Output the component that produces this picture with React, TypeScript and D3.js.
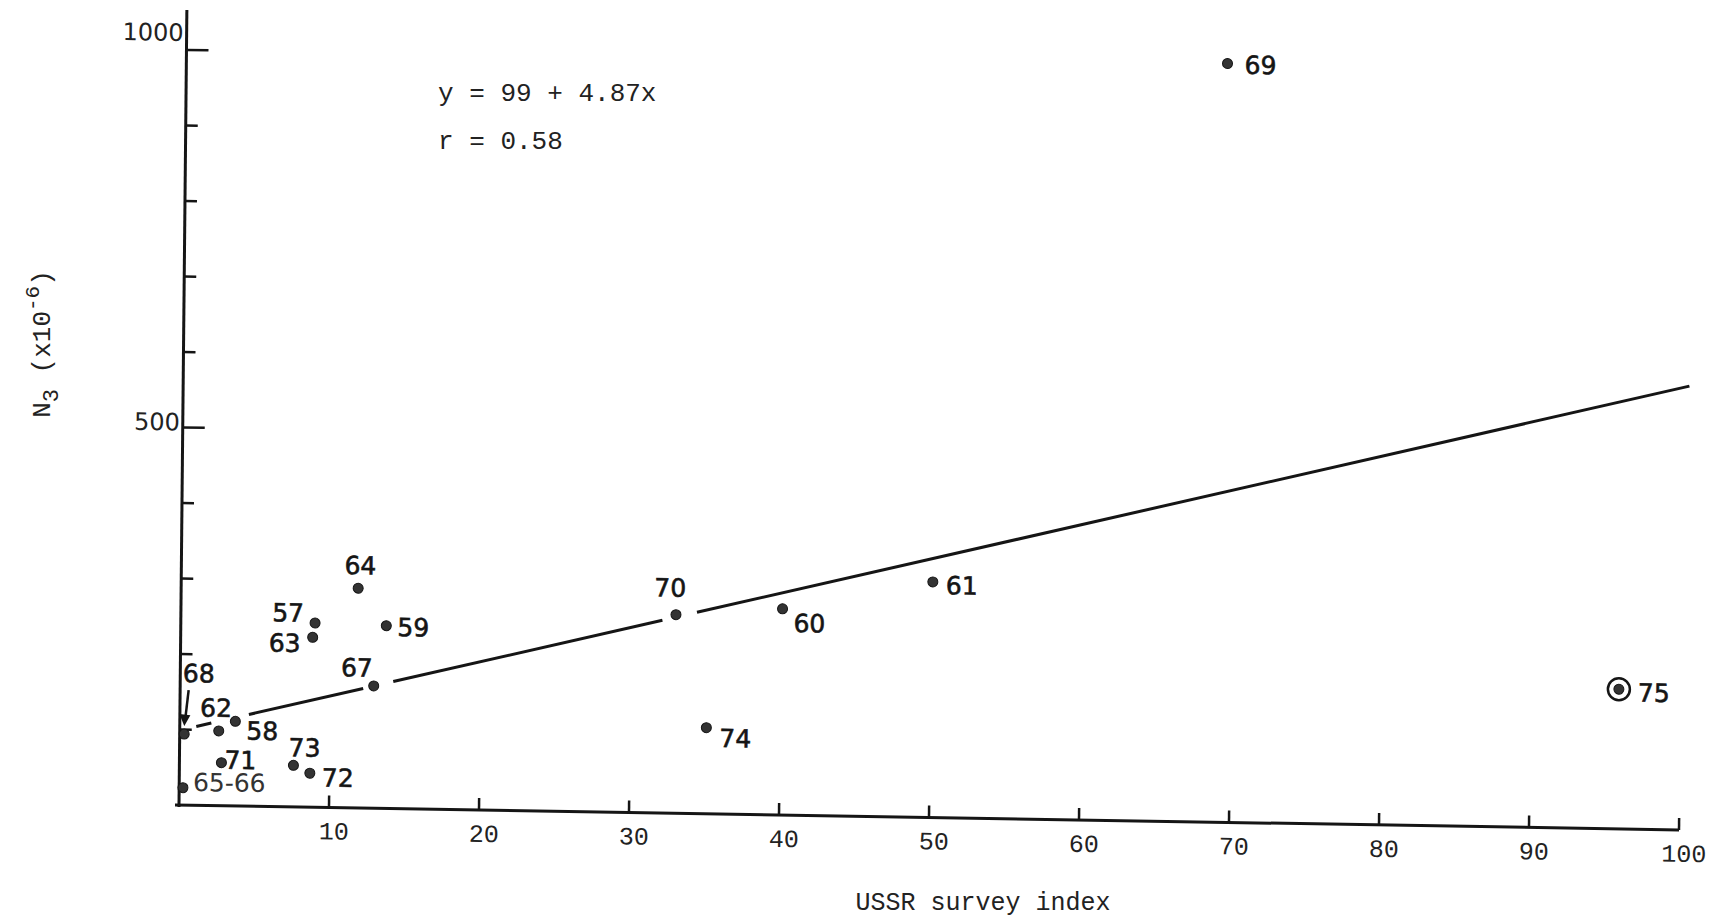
import React, { useEffect } from 'react';
import * as d3 from 'd3';

// year labels with USSR survey index (x) and N3 in millions (y)
const years = ['57', '58', '59', '60', '61', '62', '63', '64', '65-66', '67', '68', '69', '70', '71', '72', '73', '74', '75'];
const surveyIndex = [8.95, 3.7, 13.7, 40.1, 50.1, 2.6, 8.8, 11.8, 0.25, 12.9, 0.3, 69.4, 33.0, 2.8, 8.7, 7.6, 35.1, 95.9];
const n3Values = [244, 112, 242, 273, 312, 99, 225, 291, 23, 162, 94, 1005, 263, 57, 45, 55, 114, 185];

const xTicks = [10, 20, 30, 40, 50, 60, 70, 80, 90, 100];
const yTicks = [100, 200, 300, 400, 500, 600, 700, 800, 900, 1000];
const yLabelled = [500, 1000];

// regression y = 99 + 4.87x, drawn with gaps around the points it passes
const intercept = 99;
const slope = 4.87;
const lineSegments = [[1.1, 2.1], [4.6, 12.2], [14.2, 32.1], [34.4, 100.4]];

// label placement relative to the dot (px)
const labelOffsets: Record<string, [number, number]> = {
  '57': [-27, -10], '58': [27, 9], '59': [27, 1], '60': [27, 14], '61': [29, 3],
  '62': [-3, -23], '63': [-28, 6], '64': [2, -23], '65-66': [10, -6], '67': [-17, -18],
  '68': [14, -61], '69': [33, 1], '70': [-6, -27], '71': [19, -3], '72': [28, 4],
  '73': [11, -18], '74': [29, 10], '75': [35, 3],
};

const W = 1719;
const H = 921;
const origin = { x: 179, y: 805 };
// the scan is slightly tilted: x axis drops to the right, y axis leans right at the top
const skew = 'matrix(1,0.0166,-0.0099,1,0,0)';
const ink = '#151515';
const mono = '"Liberation Mono", "DejaVu Sans Mono", monospace';
const sans = '"DejaVu Sans", "Liberation Sans", sans-serif';

const App = () => {
  useEffect(() => {
    document.body.style.margin = '0';
    document.body.style.overflow = 'hidden';
  }, []);

  const x = d3.scaleLinear().domain([0, 100]).range([0, 1500]);
  const y = d3.scaleLinear().domain([0, 1000]).range([0, -755]);

  const line = d3.line<number>()
    .x(d => x(d))
    .y(d => y(intercept + slope * d));

  const points = years.map((yr, i) => ({ yr, px: x(surveyIndex[i]), py: y(n3Values[i]) }));

  return (
    <svg width={W} height={H} style={{ display: 'block', background: '#fff' }}>
      <rect width={W} height={H} fill="#fff" />
      <g transform={`translate(${origin.x},${origin.y}) ${skew}`}>
        {/* axes */}
        <line x1={-4} x2={x(100)} y1={0} y2={0} stroke={ink} strokeWidth={3} />
        <line x1={0} x2={0} y1={2} y2={-795} stroke={ink} strokeWidth={3} />
        {xTicks.map(t => (
          <g key={'xt' + t}>
            <line x1={x(t)} x2={x(t)} y1={0} y2={-12} stroke={ink} strokeWidth={2.5} />
            <text x={x(t) + 5} y={32} textAnchor="middle" fontFamily={mono} fontSize={25} fill="#222">{t}</text>
          </g>
        ))}
        {yTicks.map(t => (
          <line key={'yt' + t} x1={0} x2={yLabelled.includes(t) ? 22 : 12} y1={y(t)} y2={y(t)} stroke={ink} strokeWidth={2.5} />
        ))}
        {yLabelled.map(t => (
          <text key={'yl' + t} x={-3} y={y(t) + (t === 1000 ? -9 : 3)} textAnchor="end" fontFamily={sans} fontSize={24} fill="#222">{t}</text>
        ))}

        {/* regression line */}
        {lineSegments.map((s, i) => (
          <path key={'seg' + i} d={line(s) || ''} fill="none" stroke={ink} strokeWidth={3} />
        ))}

        {/* points */}
        {points.map(p => {
          const [dx, dy] = labelOffsets[p.yr];
          const wide = p.yr === '65-66';
          return (
            <g key={p.yr} transform={`translate(${p.px},${p.py})`}>
              {p.yr === '75' && <circle r={11} fill="none" stroke={ink} strokeWidth={2.5} />}
              <circle r={5} fill="#333" stroke={ink} strokeWidth={1} />
              {p.yr === '68' && (
                <g>
                  <line x1={4} y1={-44} x2={1} y2={-16} stroke={ink} strokeWidth={2.5} />
                  <path d="M -5,-20 L 6,-19 L 0,-8 Z" fill={ink} />
                </g>
              )}
              <text
                x={dx}
                y={dy}
                dy="0.36em"
                textAnchor={wide ? 'start' : 'middle'}
                fontFamily={sans}
                fontSize={25}
                fill={wide ? '#333' : ink}
                stroke={wide ? 'none' : ink}
                strokeWidth={0.6}
              >
                {p.yr}
              </text>
            </g>
          );
        })}
      </g>

      {/* equation */}
      <text x={438} y={101} fontFamily={mono} fontSize={26} fill="#222">y = 99 + 4.87x</text>
      <text x={438} y={149} fontFamily={mono} fontSize={26} fill="#222">r = 0.58</text>

      {/* axis titles */}
      <text x={983} y={910} textAnchor="middle" fontFamily={mono} fontSize={25} fill="#222">USSR survey index</text>
      <text transform="translate(50,344) rotate(-90)" textAnchor="middle" fontFamily={mono} fontSize={26} fill="#222">
        N<tspan dy={8} fontSize={22}>3</tspan>
        <tspan dy={-8}> (x10</tspan>
        <tspan dy={-11} fontSize={21}>-6</tspan>
        <tspan dy={11}>)</tspan>
      </text>
    </svg>
  );
};

export default App;
